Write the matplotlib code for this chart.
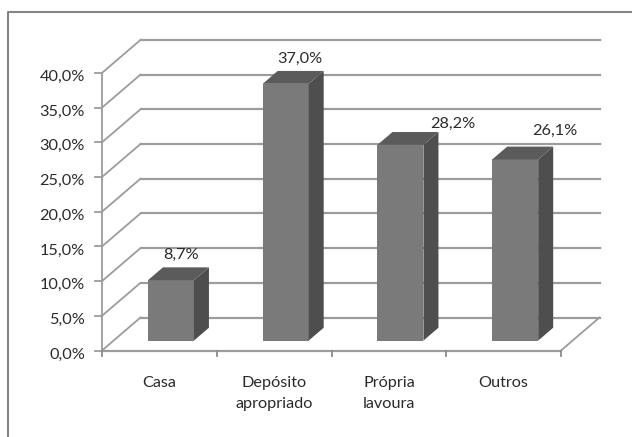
import matplotlib
matplotlib.use("Agg")
import matplotlib.pyplot as plt
from matplotlib.patches import Polygon

plt.rcParams["font.family"] = ["Lato", "DejaVu Sans"]

categories = ["Casa", "Depósito\napropriado", "Própria\nlavoura", "Outros"]
values = [8.7, 37.0, 28.2, 26.1]
value_labels = ["8,7%", "37,0%", "28,2%", "26,1%"]
y_ticks = [0, 5, 10, 15, 20, 25, 30, 35, 40]
y_tick_labels = ["0,0%", "5,0%", "10,0%", "15,0%", "20,0%", "25,0%", "30,0%", "35,0%", "40,0%"]

# pixel scale of the category and value axes in the picture
PX_CAT = 114.75
PX_VAL = 6.94
X0 = 102
Y0 = 350.5

# fake 3d depth
DEPTH_X = 38.5 / PX_CAT
DEPTH_Y = 33 / PX_VAL
BAR_W = 46 / PX_CAT
GRID = "#9c9c9c"
TEXT = "#2b2b2b"
FONT = 11.7

# label offsets from the top of the bar front, in pixels
label_dx = [10, 14, 52, 40]
label_dy = [25, 25, 21, 28.5]


def depth(x, y, d):
    return x + d * DEPTH_X, y + d * DEPTH_Y


fig = plt.figure(figsize=(6.32, 4.37), dpi=100)
ax = fig.add_axes([0, 0, 1, 1])
ax.set_xlim(-X0 / PX_CAT, (632 - X0) / PX_CAT)
ax.set_ylim((Y0 - 437) / PX_VAL, Y0 / PX_VAL)
ax.axis("off")

# outer frame, only top and left are visible
fig.add_artist(plt.Line2D([7.5 / 632, 7.5 / 632, 1], [0, 1 - 12 / 437, 1 - 12 / 437], color="#858585", lw=1.5))

n = len(categories)

# grid on the back wall and side wall
for t in y_ticks:
    bx, by = depth(0, t, 1)
    ex, ey = depth(n, t, 1)
    ax.plot([bx, ex], [by, ey], color=GRID, lw=1.6, zorder=1)
    ax.plot([0, bx], [t, by], color=GRID, lw=1.3, zorder=1)
    ax.plot([-7 / PX_CAT, 0], [t, t], color=GRID, lw=1.3, zorder=1)

# axes lines and floor
ax.plot([0, 0], [0, 40], color=GRID, lw=1.3, zorder=1)
ax.plot([0, n], [0, 0], color=GRID, lw=1.6, zorder=1)
ax.plot([n, depth(n, 0, 1)[0]], [0, depth(n, 0, 1)[1]], color=GRID, lw=1.3, zorder=1)
for i in range(n + 1):
    ax.plot([i, i], [0, -5 / PX_VAL], color="#8a8a8a", lw=1.3, zorder=1)

for t, lab in zip(y_ticks, y_tick_labels):
    ax.text(-17 / PX_CAT, t - 2.5 / PX_VAL, lab, ha="right", va="center_baseline", fontsize=FONT, color=TEXT)

# bars
for i, v in enumerate(values):
    left = i + 0.5 - BAR_W / 2
    right = i + 0.5 + BAR_W / 2
    d0, d1 = 0.3, 0.69
    fx0, fy0 = depth(left, 0, d0)
    fx1, _ = depth(right, 0, d0)
    ftop = fy0 + v
    bx1, by0 = depth(right, 0, d1)
    btop = by0 + v
    bx0, _ = depth(left, 0, d1)
    ax.add_patch(Polygon([(fx0, fy0), (fx1, fy0), (fx1, ftop), (fx0, ftop)], fc="#7a7a7a", ec="none", zorder=3))
    ax.add_patch(Polygon([(fx1, fy0), (bx1, by0), (bx1, btop), (fx1, ftop)], fc="#4e4e4e", ec="none", zorder=3))
    ax.add_patch(Polygon([(fx0, ftop), (fx1, ftop), (bx1, btop), (bx0, btop)], fc="#5b5b5b", ec="none", zorder=3))
    ax.text((fx0 + fx1) / 2 + label_dx[i] / PX_CAT, ftop + label_dy[i] / PX_VAL, value_labels[i],
            ha="center", va="center", fontsize=FONT, color=TEXT, zorder=4)

for i, c in enumerate(categories):
    ax.text(i + 0.5, -(383 - Y0) / PX_VAL + 7 / PX_VAL, c, ha="center", va="top", fontsize=FONT,
            color=TEXT, linespacing=1.63)

fig.savefig("out.png", dpi=100)
